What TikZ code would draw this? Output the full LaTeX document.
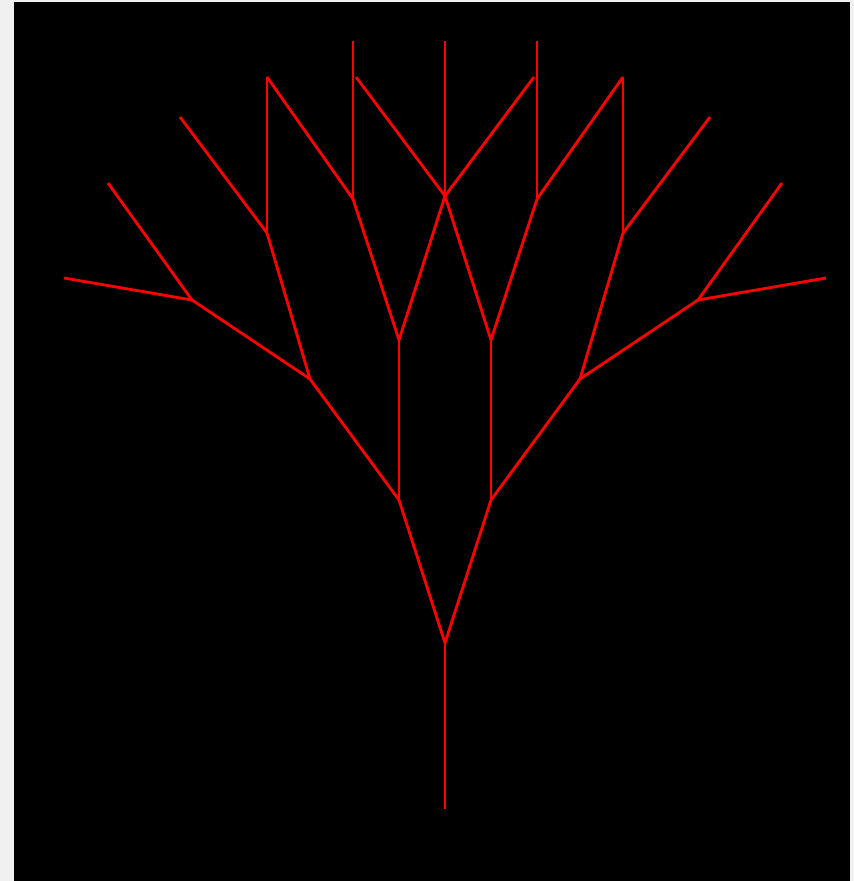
\documentclass[tikz,border=0pt]{standalone}
\definecolor{pagegray}{HTML}{F0F0F0}
\definecolor{treered}{HTML}{FF0000}
\begin{document}
\begin{tikzpicture}[x=1pt,y=-1pt,
  branch/.style={draw=treered,line width=2.8pt}]
\useasboundingbox (0,0) rectangle (854,881);
\fill[pagegray] (0,0) rectangle (854,881);
\fill[black] (14,2) rectangle (850,881);
% trunk and junctions
\coordinate (t0) at (445,809);
\coordinate (t1) at (445,643);
\coordinate (al) at (399,500);
\coordinate (ar) at (491,500);
\coordinate (bl) at (399,340);
\coordinate (br) at (491,340);
\coordinate (cl) at (310,379);
\coordinate (cr) at (580,379);
\coordinate (d) at (445,196);
\coordinate (el) at (353,199);
\coordinate (er) at (537,199);
\coordinate (fl) at (267,233);
\coordinate (fr) at (623,233);
\coordinate (gl) at (192,300);
\coordinate (gr) at (698,300);
% tips
\coordinate (pc) at (445,41);
\coordinate (pdl) at (356,77);
\coordinate (pdr) at (534,77);
\coordinate (pel) at (353,41);
\coordinate (per) at (537,41);
\coordinate (pfl) at (267,77);
\coordinate (pfr) at (623,77);
\coordinate (pfl2) at (180,117);
\coordinate (pfr2) at (710,117);
\coordinate (pgl) at (108,183);
\coordinate (pgr) at (782,183);
\coordinate (pgl2) at (64,278);
\coordinate (pgr2) at (826,278);
% branches
\path[branch] (t0) -- (t1);
\path[branch] (t1) -- (al);
\path[branch] (t1) -- (ar);
\path[branch] (al) -- (bl);
\path[branch] (ar) -- (br);
\path[branch] (al) -- (cl);
\path[branch] (ar) -- (cr);
\path[branch] (bl) -- (d);
\path[branch] (br) -- (d);
\path[branch] (bl) -- (el);
\path[branch] (br) -- (er);
\path[branch] (cl) -- (fl);
\path[branch] (cr) -- (fr);
\path[branch] (cl) -- (gl);
\path[branch] (cr) -- (gr);
\path[branch] (d) -- (pc);
\path[branch] (d) -- (pdl);
\path[branch] (d) -- (pdr);
\path[branch] (el) -- (pel);
\path[branch] (er) -- (per);
\path[branch] (el) -- (pfl);
\path[branch] (er) -- (pfr);
\path[branch] (fl) -- (pfl);
\path[branch] (fr) -- (pfr);
\path[branch] (fl) -- (pfl2);
\path[branch] (fr) -- (pfr2);
\path[branch] (gl) -- (pgl);
\path[branch] (gr) -- (pgr);
\path[branch] (gl) -- (pgl2);
\path[branch] (gr) -- (pgr2);
\end{tikzpicture}
\end{document}
